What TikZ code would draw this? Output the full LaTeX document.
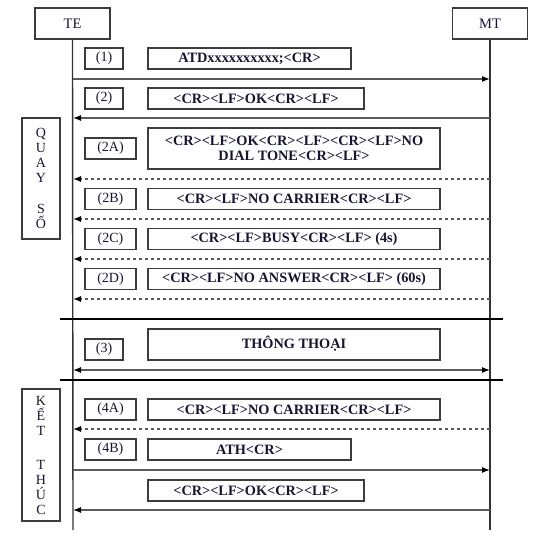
\documentclass[tikz,border=0pt]{standalone}
\usepackage{fontspec}
\setmainfont{Liberation Serif}
\usetikzlibrary{arrows.meta}
\definecolor{txt}{RGB}{22,22,48}
\definecolor{boxc}{RGB}{60,60,60}
\definecolor{arrc}{RGB}{90,90,90}
\tikzset{
  lbl/.style={draw=boxc, line width=1.2pt, inner sep=0pt, text=txt, font=\fontsize{14}{15}\selectfont, minimum height=21pt},
  stepbox/.style={lbl, minimum width=38pt},
  stepwide/.style={lbl, minimum width=51pt},
  msgbox/.style={lbl, font=\fontsize{14.3}{15.5}\selectfont\bfseries, align=center},
  sidebox/.style={draw=boxc, line width=1.2pt, inner sep=0pt, text=txt, minimum width=38pt, align=center, font=\fontsize{14}{15}\selectfont},
  entity/.style={draw=boxc, line width=1.2pt, inner sep=0pt, text=txt, minimum width=75pt, minimum height=31pt, font=\fontsize{14.5}{15}\selectfont},
  life/.style={draw=black!80, line width=1.4pt},
  tip/.style={},
  msg/.style={draw=arrc, line width=1.1pt, -{Latex[length=8pt,width=6pt,black]}},
  dmsg/.style={msg, dash pattern=on 3.5pt off 2.5pt},
  bmsg/.style={draw=arrc, line width=1.1pt, {Latex[length=8pt,width=6pt,black]}-{Latex[length=8pt,width=6pt,black]}},
  sep/.style={draw=black, line width=2.4pt}
}
\begin{document}
\begin{tikzpicture}[x=1pt,y=-1pt]
\useasboundingbox (0,0) rectangle (534,540);
% entities
\node[entity] (te) at (72.5,23.5) {TE};
\node[entity] (mt) at (490,23.5) {MT};
\coordinate (teend) at (73,530);
\coordinate (mtend) at (490,530);
\draw[life] (te.south) -- (teend);
\draw[life] (mt.south) -- (mtend);
% side boxes
\node[sidebox, minimum height=121pt] (quay) at (41,178.5) {Q\\U\\A\\Y\\[16pt]S\\Ố};
\node[sidebox, minimum height=132pt] (ket) at (41,455) {K\\Ế\\T\\[19pt]T\\H\\Ú\\C};
% (1)
\node[stepbox] (s1) at (104,58.5) {(1)};
\node[msgbox, minimum width=203pt] (m1) at (249.5,58.5) {ATDxxxxxxxxxx;<CR>};
\coordinate (a1l) at (73,79); \coordinate (a1r) at (490,79);
\draw[msg] (a1l) -- (a1r);
% (2)
\node[stepbox] (s2) at (104,98.5) {(2)};
\node[msgbox, minimum width=216pt] (m2) at (256,98.5) {<CR><LF>OK<CR><LF>};
\coordinate (a2l) at (73,118); \coordinate (a2r) at (490,118);
\draw[msg] (a2r) -- (a2l);
% (2A)
\node[stepwide] (s2a) at (110.5,148.5) {(2A)};
\node[msgbox, minimum width=292pt, minimum height=41pt] (m2a) at (294,148.5) {<CR><LF>OK<CR><LF><CR><LF>NO\\DIAL TONE<CR><LF>};
\coordinate (a3l) at (73,179); \coordinate (a3r) at (490,179);
\draw[dmsg] (a3r) -- (a3l);
% (2B)
\node[stepwide] (s2b) at (110.5,199) {(2B)};
\node[msgbox, minimum width=292pt] (m2b) at (294,199) {<CR><LF>NO CARRIER<CR><LF>};
\coordinate (a4l) at (73,219); \coordinate (a4r) at (490,219);
\draw[dmsg] (a4r) -- (a4l);
% (2C)
\node[stepwide] (s2c) at (110.5,239) {(2C)};
\node[msgbox, minimum width=292pt] (m2c) at (294,239) {<CR><LF>BUSY<CR><LF> (4s)};
\coordinate (a5l) at (73,259); \coordinate (a5r) at (490,259);
\draw[dmsg] (a5r) -- (a5l);
% (2D)
\node[stepwide] (s2d) at (110.5,279) {(2D)};
\node[msgbox, minimum width=292pt] (m2d) at (294,279) {<CR><LF>NO ANSWER<CR><LF> (60s)};
\coordinate (a6l) at (73,299); \coordinate (a6r) at (490,299);
\draw[dmsg] (a6r) -- (a6l);
% separator
\coordinate (sp1l) at (60,319); \coordinate (sp1r) at (503,319);
\draw[sep] (sp1l) -- (sp1r);
% (3)
\node[stepbox] (s3) at (104,349.5) {(3)};
\node[msgbox, minimum width=292pt, minimum height=31pt] (m3) at (294,344.5) {\raisebox{4pt}{THÔNG THOẠI}};
\coordinate (a7l) at (73,370); \coordinate (a7r) at (490,370);
\draw[bmsg] (a7l) -- (a7r);
\coordinate (sp2l) at (60,380); \coordinate (sp2r) at (503,380);
\draw[sep] (sp2l) -- (sp2r);
% (4A)
\node[stepwide] (s4a) at (110.5,409.5) {(4A)};
\node[msgbox, minimum width=292pt] (m4a) at (294,409.5) {<CR><LF>NO CARRIER<CR><LF>};
\coordinate (a8l) at (73,429); \coordinate (a8r) at (490,429);
\draw[dmsg] (a8r) -- (a8l);
% (4B)
\node[stepwide] (s4b) at (110.5,449.5) {(4B)};
\node[msgbox, minimum width=203pt] (m4b) at (249.5,449.5) {ATH<CR>};
\coordinate (a9l) at (73,470); \coordinate (a9r) at (490,470);
\draw[msg] (a9l) -- (a9r);
% OK
\node[msgbox, minimum width=216pt] (m5) at (256,490.5) {<CR><LF>OK<CR><LF>};
\coordinate (a10l) at (73,510); \coordinate (a10r) at (490,510);
\draw[msg] (a10r) -- (a10l);
\end{tikzpicture}
\end{document}
